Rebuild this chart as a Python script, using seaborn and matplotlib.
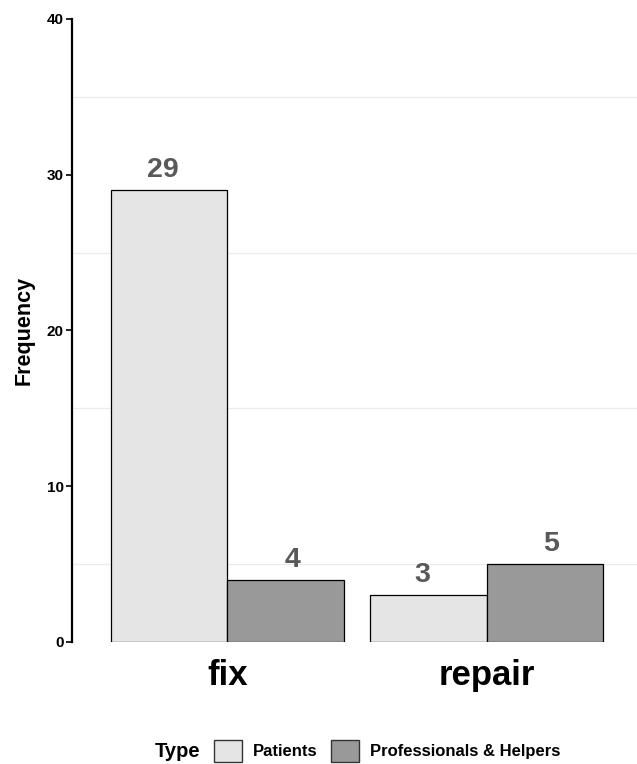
import pandas as pd
import matplotlib.pyplot as plt
import seaborn as sns

# word counts by respondent type
words = ['fix', 'fix', 'repair', 'repair']
types = ['Patients', 'Professionals & Helpers', 'Patients', 'Professionals & Helpers']
freq = [29, 4, 3, 5]

type_order = ['Patients', 'Professionals & Helpers']
word_order = ['fix', 'repair']
colours = {'Patients': '#E5E5E5', 'Professionals & Helpers': '#999999'}

df = pd.DataFrame({'word': words, 'Type': types, 'Frequency': freq})

sns.set_theme(style='white')
plt.rcParams['font.family'] = ['Liberation Sans', 'DejaVu Sans']
plt.rcParams['text.color'] = 'black'
plt.rcParams['axes.labelcolor'] = 'black'
plt.rcParams['xtick.color'] = 'black'
plt.rcParams['ytick.color'] = 'black'

fig = plt.figure(figsize=(6.37, 7.64), dpi=100)
ax = fig.add_axes([0.113, 0.1597, 0.887, 0.8155])

sns.barplot(data=df, x='word', y='Frequency', hue='Type',
            order=word_order, hue_order=type_order, palette=colours,
            width=0.9, edgecolor='black', linewidth=0.9, ax=ax, legend=False)

# value labels, dodged a bit wider than the bars (as in the original)
label_dodge = 0.25
for _, row in df.iterrows():
    xpos = word_order.index(row['word']) + (-label_dodge if row['Type'] == type_order[0] else label_dodge)
    ax.annotate(str(row['Frequency']), (xpos, row['Frequency']),
                xytext=(0, 5), textcoords='offset points', ha='center', va='bottom',
                fontsize=20.5, fontweight='bold', color='#595959')

ax.set_ylim(0, 40)
ax.set_xlim(-0.6, 1.58)
ax.set_yticks([0, 10, 20, 30, 40])
ax.set_yticks([5, 15, 25, 35], minor=True)
ax.grid(False)
ax.grid(which='minor', axis='y', color='#EBEBEB', linewidth=0.9)
ax.set_axisbelow(True)

for side in ['top', 'right', 'bottom']:
    ax.spines[side].set_visible(False)
ax.spines['left'].set_linewidth(1.6)
ax.spines['left'].set_color('black')

ax.tick_params(axis='y', which='major', left=True, length=4, width=1.2, color='black',
               labelsize=11, pad=2)
ax.tick_params(axis='y', which='minor', left=False)
ax.tick_params(axis='x', bottom=False, labelsize=25, pad=6)
for lbl in ax.get_yticklabels():
    lbl.set_fontweight('bold')
for lbl in ax.get_xticklabels():
    lbl.set_fontweight('bold')

ax.set_xlabel('')
ax.set_ylabel('Frequency', fontsize=15.5, fontweight='bold', labelpad=9)

# legend along the bottom, title on the left
handles = [plt.Rectangle((0, 0), 1, 1, facecolor=colours[t], edgecolor='#333333', linewidth=1)
           for t in type_order]
leg = fig.legend(handles, type_order, loc='center left', bbox_to_anchor=(0.336, 0.017),
                 ncol=2, frameon=False, handlelength=1.7, handleheight=1.7,
                 handletextpad=0.65, columnspacing=0.8, borderpad=0, borderaxespad=0,
                 prop={'weight': 'bold', 'size': 12})
fig.text(0.243, 0.017, 'Type', ha='left', va='center', fontsize=14.5, fontweight='bold')

plt.savefig('out.png', dpi=100)
